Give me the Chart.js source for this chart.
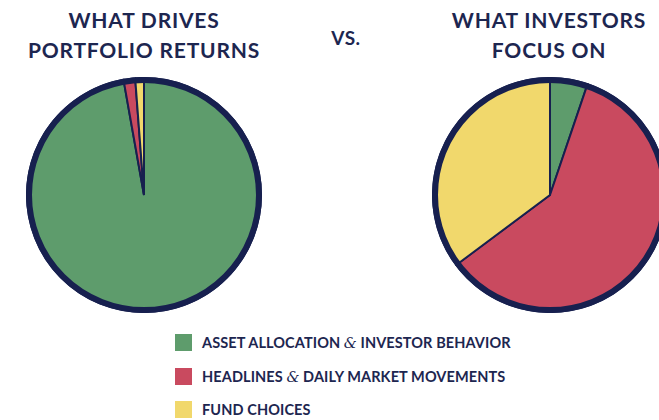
<!DOCTYPE html>
<html>
<head>
<meta charset="utf-8">
<script src="https://cdn.jsdelivr.net/npm/chart.js@4/dist/chart.umd.min.js"></script>
<style>
  html, body { margin: 0; padding: 0; background: #fff; }
  body { width: 659px; height: 420px; overflow: hidden; position: relative;
         font-family: Lato, "Open Sans", sans-serif; color: #1d2650; }
  .title { position: absolute; top: 5px; width: 300px; text-align: center;
           font-weight: 700; font-size: 21px; line-height: 30px; letter-spacing: 0.8px; }
  .vs { position: absolute; top: 26px; left: 316px; width: 60px; text-align: center;
        font-weight: 700; font-size: 19px; letter-spacing: 0.5px; }
  .pie { position: absolute; top: 77px; width: 236px; height: 236px; }
  #legend { position: absolute; left: 175px; top: 326px; }
  .row { display: flex; align-items: center; height: 33.5px; }
  .sw { width: 17px; height: 17px; margin-right: 10px; }
  .lbl { font-weight: 700; font-size: 14.5px; letter-spacing: 0.1px; }
  .amp { font-family: "DejaVu Serif", serif; font-style: italic; font-weight: 400; }
</style>
</head>
<body>
<div class="title" id="t1" style="left:-6px"></div>
<div class="vs">VS.</div>
<div class="title" id="t2" style="left:399px"></div>
<div class="pie" style="left:26px"><canvas id="pieLeft"></canvas></div>
<div class="pie" style="left:432px"><canvas id="pieRight"></canvas></div>
<div id="legend"></div>
<script>
// ─── Data ───────────────────────────────────────────────────────────────
const categories = [
  "ASSET ALLOCATION & INVESTOR BEHAVIOR",
  "HEADLINES & DAILY MARKET MOVEMENTS",
  "FUND CHOICES",
];
const drivesReturns = [97.2, 1.6, 1.2];   // left pie (%)
const investorFocus = [5.2, 59.6, 35.2];  // right pie (%)
const colors = ["#5e9c6c", "#c94a5f", "#f1d86c"];
const navy = "#17204f";
const leftTitle = ["WHAT DRIVES", "PORTFOLIO RETURNS"];
const rightTitle = ["WHAT INVESTORS", "FOCUS ON"];

document.getElementById("t1").innerHTML = leftTitle.join("<br>");
document.getElementById("t2").innerHTML = rightTitle.join("<br>");

// Legend rows (fancy ampersand kept as real text)
const legend = document.getElementById("legend");
categories.forEach((c, i) => {
  const row = document.createElement("div");
  row.className = "row";
  const sw = document.createElement("div");
  sw.className = "sw";
  sw.style.background = colors[i];
  const lbl = document.createElement("span");
  lbl.className = "lbl";
  lbl.innerHTML = c.replace("&", '<span class="amp">&amp;</span>');
  row.appendChild(sw);
  row.appendChild(lbl);
  legend.appendChild(row);
});

// Thick outer ring around the pie, using the arc geometry from the chart
const outerRing = {
  id: "outerRing",
  afterDatasetsDraw(chart) {
    const arc = chart.getDatasetMeta(0).data[0];
    if (!arc) return;
    const ctx = chart.ctx;
    ctx.save();
    ctx.beginPath();
    ctx.arc(arc.x, arc.y, arc.outerRadius - 2, 0, Math.PI * 2);
    ctx.lineWidth = 6;
    ctx.strokeStyle = navy;
    ctx.stroke();
    ctx.restore();
  },
};

function makePie(id, values) {
  return new Chart(document.getElementById(id), {
    type: "pie",
    data: {
      labels: categories,
      datasets: [{
        data: values,
        backgroundColor: colors,
        borderColor: navy,
        borderWidth: 2,
        borderJoinStyle: "miter",
      }],
    },
    options: {
      responsive: true,
      maintainAspectRatio: false,
      animation: false,
      layout: { padding: 0 },
      plugins: { legend: { display: false }, tooltip: { enabled: false } },
    },
    plugins: [outerRing],
  });
}

makePie("pieLeft", drivesReturns);
makePie("pieRight", investorFocus);
</script>
</body>
</html>
